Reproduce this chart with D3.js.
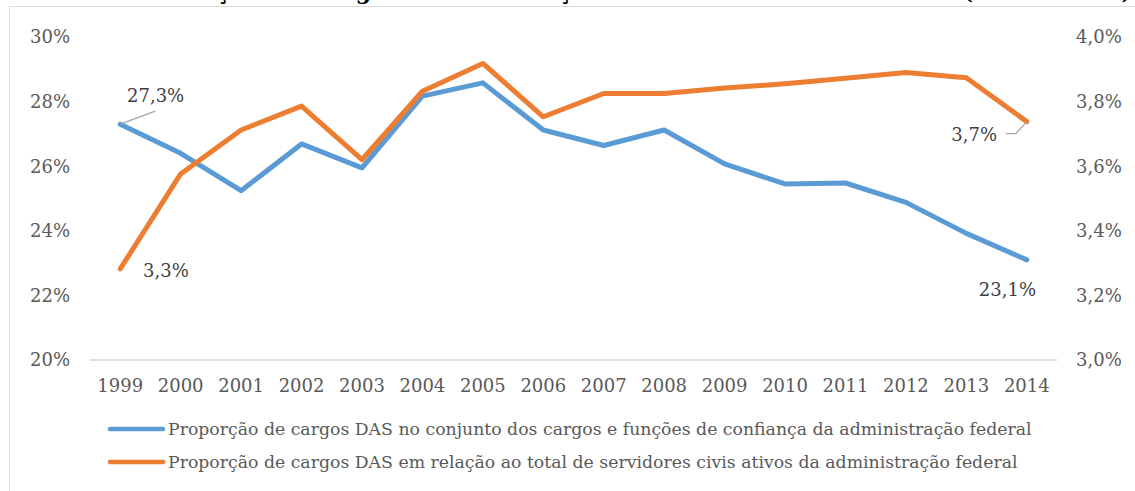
<!DOCTYPE html>
<html>
<head>
<meta charset="utf-8">
<script src="https://cdn.jsdelivr.net/npm/d3@7"></script>
<style>
  body { margin: 0; background: #fff; }
  svg { display: block; font-family: "DejaVu Serif", serif; }
</style>
</head>
<body>
<svg width="1135" height="491"></svg>
<script>
const years = ["1999","2000","2001","2002","2003","2004","2005","2006","2007","2008","2009","2010","2011","2012","2013","2014"];
// % of DAS posts among all confidence posts and functions (left axis)
const dasShare = [27.3, 26.4, 25.24, 26.69, 25.95, 28.17, 28.58, 27.12, 26.64, 27.12, 26.07, 25.45, 25.48, 24.88, 23.92, 23.1];
// % of DAS posts among all active civil servants (right axis)
const dasVsServants = [3.282, 3.576, 3.712, 3.786, 3.62, 3.832, 3.918, 3.753, 3.825, 3.825, 3.842, 3.855, 3.872, 3.89, 3.874, 3.738];
const leftTicks = [20, 22, 24, 26, 28, 30];
const rightTicks = [3.0, 3.2, 3.4, 3.6, 3.8, 4.0];
const seriesNames = [
  "Proporção de cargos DAS no conjunto dos cargos e funções de confiança da administração federal",
  "Proporção de cargos DAS em relação ao total de servidores civis ativos da administração federal"
];
const colors = ["#5b9bd5", "#ed7d31"];

const svg = d3.select("svg");
const plotLeft = 90, plotRight = 1057, plotTop = 37, plotBottom = 360;

// frame + title (cut off at the top, as in the source image)
svg.append("rect")
   .attr("x", 9.5).attr("y", 6.5)
   .attr("width", 1140).attr("height", 500)
   .attr("fill", "none").attr("stroke", "#d9d9d9");
svg.append("text")
   .attr("x", 10).attr("y", -1)
   .attr("font-weight", "bold").attr("font-size", 22)
   .attr("textLength", 1122)
   .attr("fill", "#000")
   .text("Gráfico 2 – Evolução dos cargos DAS em relação ao total de servidores ativos (1999 – 2014)");

let x = d3.scaleBand().domain(years).range([plotLeft, plotRight]);
let yL = d3.scaleLinear().domain([20, 30]).range([plotBottom, plotTop]);
let yR = d3.scaleLinear().domain([3.0, 4.0]).range([plotBottom, plotTop]);
const fmt = d => d3.format(".1f")(d).replace(".", ",") + "%";

// base line
svg.append("line")
   .attr("x1", plotLeft).attr("x2", plotRight)
   .attr("y1", plotBottom).attr("y2", plotBottom)
   .attr("stroke", "#d9d9d9").attr("stroke-width", 1.3);

// axis labels
svg.selectAll(".yl").data(leftTicks).enter().append("text")
   .attr("x", 70).attr("y", d => yL(d)).attr("dy", "0.36em")
   .attr("text-anchor", "end").attr("font-size", 18).attr("fill", "#595959")
   .text(d => d + "%");
svg.selectAll(".yr").data(rightTicks).enter().append("text")
   .attr("x", 1076).attr("y", d => yR(d)).attr("dy", "0.36em")
   .attr("font-size", 18).attr("fill", "#595959")
   .text(d => d3.format(".1f")(d).replace(".", ",") + "%");
svg.selectAll(".xl").data(years).enter().append("text")
   .attr("x", d => x(d) + x.bandwidth() / 2).attr("y", 392)
   .attr("text-anchor", "middle").attr("font-size", 18).attr("fill", "#595959")
   .text(d => d);

// lines
const cx = i => x(years[i]) + x.bandwidth() / 2;
const lineL = d3.line().x((d, i) => cx(i)).y(d => yL(d));
const lineR = d3.line().x((d, i) => cx(i)).y(d => yR(d));
svg.append("path").datum(dasShare).attr("d", lineL)
   .attr("fill", "none").attr("stroke", colors[0]).attr("stroke-width", 5)
   .attr("stroke-linecap", "round").attr("stroke-linejoin", "round");
svg.append("path").datum(dasVsServants).attr("d", lineR)
   .attr("fill", "none").attr("stroke", colors[1]).attr("stroke-width", 5)
   .attr("stroke-linecap", "round").attr("stroke-linejoin", "round");

// data labels
const n = years.length - 1;
svg.append("path")
   .attr("d", `M${cx(0)},${yL(dasShare[0])}L${cx(0) + 35},${yL(dasShare[0]) - 13}`)
   .attr("stroke", "#a6a6a6").attr("stroke-width", 1.3).attr("fill", "none");
svg.append("text").attr("x", 127).attr("y", 102).attr("font-size", 18).attr("fill", "#404040")
   .text(fmt(dasShare[0]));
svg.append("text").attr("x", 143).attr("y", 277).attr("font-size", 18).attr("fill", "#404040")
   .text(fmt(dasVsServants[0]));
svg.append("path")
   .attr("d", `M${cx(n) - 21},${yR(dasVsServants[n]) + 12}H${cx(n) - 11}L${cx(n)},${yR(dasVsServants[n])}`)
   .attr("stroke", "#a6a6a6").attr("stroke-width", 1.3).attr("fill", "none");
svg.append("text").attr("x", 997).attr("y", 141).attr("text-anchor", "end")
   .attr("font-size", 18).attr("fill", "#404040")
   .text(fmt(dasVsServants[n]));
svg.append("text").attr("x", 1036).attr("y", 296).attr("text-anchor", "end")
   .attr("font-size", 18).attr("fill", "#404040")
   .text(fmt(dasShare[n]));

// legend
const leg = svg.selectAll(".leg").data(seriesNames).enter().append("g")
   .attr("transform", (d, i) => `translate(110,${429 + i * 33})`);
leg.append("line").attr("x1", 0).attr("x2", 53)
   .attr("stroke", (d, i) => colors[i]).attr("stroke-width", 4.5).attr("stroke-linecap", "round");
leg.append("text").attr("x", 58).attr("dy", "0.35em")
   .attr("font-size", 17.3).attr("fill", "#595959")
   .text(d => d);
</script>
</body>
</html>
